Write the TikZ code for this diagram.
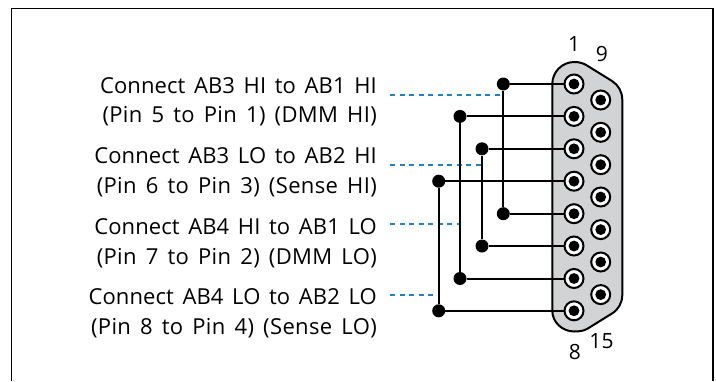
\documentclass[tikz,border=0pt]{standalone}
\usepackage{fontspec}
\setmainfont[WordSpace=1.5,LetterSpace=0.4]{Open Sans}
\newfontfamily\widecaption[WordSpace=1.5,LetterSpace=1.7]{Open Sans}
\definecolor{shellgray}{HTML}{D1D3D4}
\definecolor{dashblue}{HTML}{1C83C6}
\tikzset{
  frameline/.style={draw=black,line width=1.6pt},
  pinhole/.style={circle,draw=black,line width=2pt,fill=white,minimum size=19pt,inner sep=0pt,
    path picture={\fill[black] (path picture bounding box.center) circle (5.4pt);}},
  junction/.style={circle,fill=black,minimum size=13pt,inner sep=0pt},
  wire/.style={draw=black,line width=2pt},
  leader/.style={draw=dashblue,line width=1.7pt,dash pattern=on 5.3pt off 4.2pt},
  caption/.style={anchor=base east,font=\fontsize{22pt}{24pt}\selectfont,inner sep=0pt},
  captionwide/.style={anchor=base east,font=\fontsize{22pt}{24pt}\widecaption,inner sep=0pt},
  pinnum/.style={anchor=center,font=\fontsize{21pt}{23pt}\selectfont,inner sep=0pt}
}
\begin{document}
\begin{tikzpicture}[x=1pt,y=-1pt]
\useasboundingbox (0,0) rectangle (716,381);
\draw[frameline] (11.5,381) -- (11.5,8.5) -- (713,8.5) -- (713,381);
% connector shell
\draw[fill=shellgray,draw=black,line width=2pt]
  (552.3,84) .. controls (552.3,72) and (562,62) .. (574.3,62)
  .. controls (579,62) and (583,63) .. (587,65.5)
  -- (612,81)
  .. controls (618.5,85) and (622.3,92) .. (622.3,100)
  -- (622.3,294.7)
  .. controls (622.3,302.7) and (618.5,309.5) .. (612,313.5)
  -- (587,329)
  .. controls (583,331) and (579,331.5) .. (574.3,331.5)
  .. controls (562,331.5) and (552.3,322) .. (552.3,310.7)
  -- cycle;
% pins
\foreach \n/\y in {1/84,2/116.4,3/148.8,4/181.2,5/213.7,6/246,7/278.5,8/310.8}
  \node[pinhole] (p\n) at (574,\y) {};
\foreach \n/\y in {9/100,10/132.3,11/164.7,12/197,13/229.6,14/262,15/294.6}
  \node[pinhole] (p\n) at (600.7,\y) {};
% leaders
\coordinate (l1) at (390,95);
\coordinate (l2) at (390,165.3);
\coordinate (l3) at (390,224.3);
\coordinate (l4) at (390,294.7);
\coordinate (e1) at (503.3,95);
\coordinate (e2) at (482,165.3);
\coordinate (e3) at (460,224.3);
\coordinate (e4) at (438.7,294.7);
\draw[leader] (l1) -- (e1);
\draw[leader] (l2) -- (e2);
\draw[leader] (l3) -- (e3);
\draw[leader] (l4) -- (e4);
% junctions
\node[junction] (a1) at (503.3,84) {};
\node[junction] (a2) at (503.3,213.7) {};
\node[junction] (b1) at (460,116.4) {};
\node[junction] (b2) at (460,278.5) {};
\node[junction] (c1) at (482,148.8) {};
\node[junction] (c2) at (482,246) {};
\node[junction] (d1) at (438.7,181.2) {};
\node[junction] (d2) at (438.7,310.8) {};
% wires
\draw[wire] (a1) -- (a2);
\draw[wire] (b1) -- (b2);
\draw[wire] (c1) -- (c2);
\draw[wire] (d1) -- (d2);
\draw[wire] (a1) -- (p1);
\draw[wire] (b1) -- (p2);
\draw[wire] (c1) -- (p3);
\draw[wire] (d1) -- (p4);
\draw[wire] (a2) -- (p5);
\draw[wire] (c2) -- (p6);
\draw[wire] (b2) -- (p7);
\draw[wire] (d2) -- (p8);
% labels
\node[caption] (t1) at (377,93) {Connect AB3 HI to AB1 HI};
\node[captionwide] (t2) at (377,122.5) {(Pin 5 to Pin 1) (DMM HI)};
\node[caption] (t3) at (377,163.5) {Connect AB3 LO to AB2 HI};
\node[captionwide] (t4) at (377,193.5) {(Pin 6 to Pin 3) (Sense HI)};
\node[caption] (t5) at (377,234) {Connect AB4 HI to AB1 LO};
\node[captionwide] (t6) at (377,264) {(Pin 7 to Pin 2) (DMM LO)};
\node[caption] (t7) at (377,304.5) {Connect AB4 LO to AB2 LO};
\node[captionwide] (t8) at (377,334.5) {(Pin 8 to Pin 4) (Sense LO)};
\node[pinnum] (n1) at (574,44) {1};
\node[pinnum] (n9) at (602,54) {9};
\node[pinnum] (n8) at (575,352) {8};
\node[pinnum] (n15) at (601.5,341) {15};
\end{tikzpicture}
\end{document}
